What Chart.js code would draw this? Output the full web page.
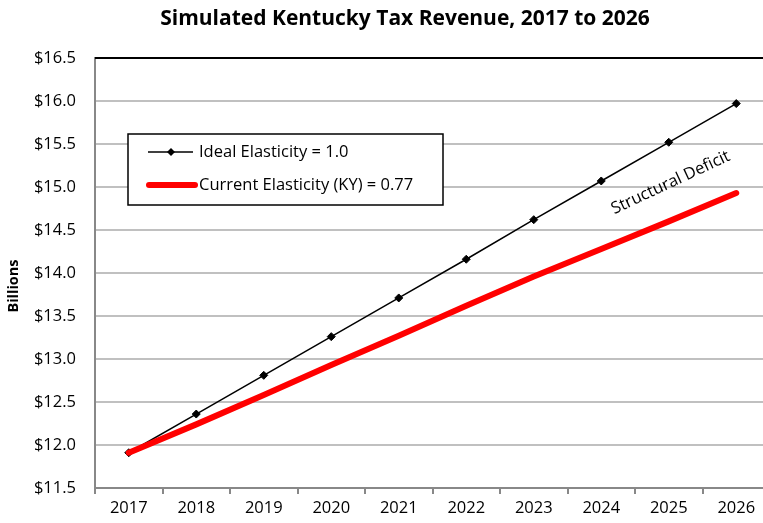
<!DOCTYPE html>
<html><head><meta charset="utf-8">
<script src="https://cdn.jsdelivr.net/npm/chart.js@4.4.0/dist/chart.umd.min.js"></script>
<style>
html,body{margin:0;padding:0;background:#fff;overflow:hidden;width:763px;height:523px;}
#wrap{width:810px;height:523px;}
</style></head><body>
<div id="wrap"><canvas id="c" width="810" height="523"></canvas></div>
<script>
const years = ['2017','2018','2019','2020','2021','2022','2023','2024','2025','2026'];
const idealElasticity = [11.91,12.36,12.81,13.26,13.71,14.16,14.62,15.07,15.52,15.97];
const currentElasticity = [11.91,12.24,12.58,12.93,13.27,13.62,13.96,14.28,14.60,14.93];
const yTicks = [11.5,12.0,12.5,13.0,13.5,14.0,14.5,15.0,15.5,16.0,16.5];
const seriesNames = ['Ideal Elasticity = 1.0','Current Elasticity (KY) = 0.77'];
const chartTitle = 'Simulated Kentucky Tax Revenue, 2017 to 2026';
const yTitle = 'Billions';
const FONT = "'Open Sans', sans-serif";

const overlay = {
  id:'overlay',
  beforeDatasetsDraw(chart){
    const {ctx, chartArea:a} = chart;
    ctx.save();
    ctx.strokeStyle='#000'; ctx.lineWidth=2;
    ctx.beginPath(); ctx.moveTo(a.left, a.top); ctx.lineTo(a.right, a.top); ctx.stroke();
    ctx.restore();
  },
  afterDraw(chart){
    const {ctx, chartArea:a, scales} = chart;
    ctx.save();
    // title
    ctx.fillStyle='#000'; ctx.textAlign='center'; ctx.textBaseline='middle';
    ctx.font="bold 21px "+FONT;
    ctx.fillText(chartTitle, chart.width/2, 19);
    // y axis title
    ctx.save();
    ctx.translate(14, a.top+228); ctx.rotate(-Math.PI/2);
    ctx.font="bold 14.5px "+FONT; ctx.fillText(yTitle,0,0);
    ctx.restore();
    // legend box
    const bx=a.left+33, by=a.top+76, bw=315, bh=71;
    ctx.fillStyle='#fff'; ctx.fillRect(bx,by,bw,bh);
    ctx.strokeStyle='#000'; ctx.lineWidth=1.5; ctx.strokeRect(bx,by,bw,bh);
    ctx.font="16.5px "+FONT; ctx.fillStyle='#000'; ctx.textBaseline='middle'; ctx.textAlign='left';
    let y1=by+18, y2=by+51;
    ctx.strokeStyle='#000'; ctx.lineWidth=1.5;
    ctx.beginPath(); ctx.moveTo(bx+20,y1); ctx.lineTo(bx+65,y1); ctx.stroke();
    ctx.beginPath(); ctx.moveTo(bx+43,y1-4); ctx.lineTo(bx+47,y1); ctx.lineTo(bx+43,y1+4); ctx.lineTo(bx+39,y1); ctx.closePath(); ctx.fill();
    ctx.fillText(seriesNames[0], bx+71, y1);
    ctx.strokeStyle='#ff0000'; ctx.lineWidth=6; ctx.lineCap='round';
    ctx.beginPath(); ctx.moveTo(bx+21,y2); ctx.lineTo(bx+67,y2); ctx.stroke();
    ctx.fillText(seriesNames[1], bx+71, y2);
    // annotation
    const tx = scales.x.getPixelForValue(8)+2, ty = scales.y.getPixelForValue(15.05);
    ctx.translate(tx,ty); ctx.rotate(-25*Math.PI/180);
    ctx.textAlign='center'; ctx.font="16.5px "+FONT;
    ctx.fillText('Structural Deficit',0,0);
    ctx.restore();
  }
};

new Chart(document.getElementById('c'),{
  type:'line',
  data:{labels:years,datasets:[
    {label:seriesNames[0],data:idealElasticity,borderColor:'#000',backgroundColor:'#000',borderWidth:1.5,
     pointStyle:'rectRot',pointRadius:4,pointHoverRadius:4,pointBackgroundColor:'#000',pointBorderColor:'#000',pointBorderWidth:1,order:2,tension:0},
    {label:seriesNames[1],data:currentElasticity,borderColor:'#ff0000',backgroundColor:'#ff0000',borderWidth:6,
     pointRadius:0,borderCapStyle:'round',order:1,tension:0}
  ]},
  options:{
    responsive:false,animation:false,devicePixelRatio:1,
    layout:{padding:{left:4,right:40,top:58,bottom:0}},
    plugins:{
      legend:{display:false},tooltip:{enabled:false},title:{display:false}
    },
    scales:{
      x:{offset:true,
        grid:{display:true,offset:true,drawOnChartArea:false,drawTicks:true,tickLength:6,color:'#888',lineWidth:2},
        border:{display:true,color:'#888',width:2},
        ticks:{color:'#000',font:{family:FONT,size:16.5},padding:4,maxRotation:0},
        afterFit(s){s.height=35;}
      },
      y:{min:11.5,max:16.5,
        afterBuildTicks(s){s.ticks=yTicks.map(v=>({value:v}));},
        grid:{color:'#c0c0c0',lineWidth:2,drawTicks:false},
        border:{display:true,color:'#888',width:2},
        ticks:{color:'#000',font:{family:FONT,size:16.5},padding:19,callback:v=>'$'+v.toFixed(1)},
        title:{display:false},
        afterFit(s){s.width=91;}
      }
    }
  },
  plugins:[overlay]
});
</script>
</body></html>
